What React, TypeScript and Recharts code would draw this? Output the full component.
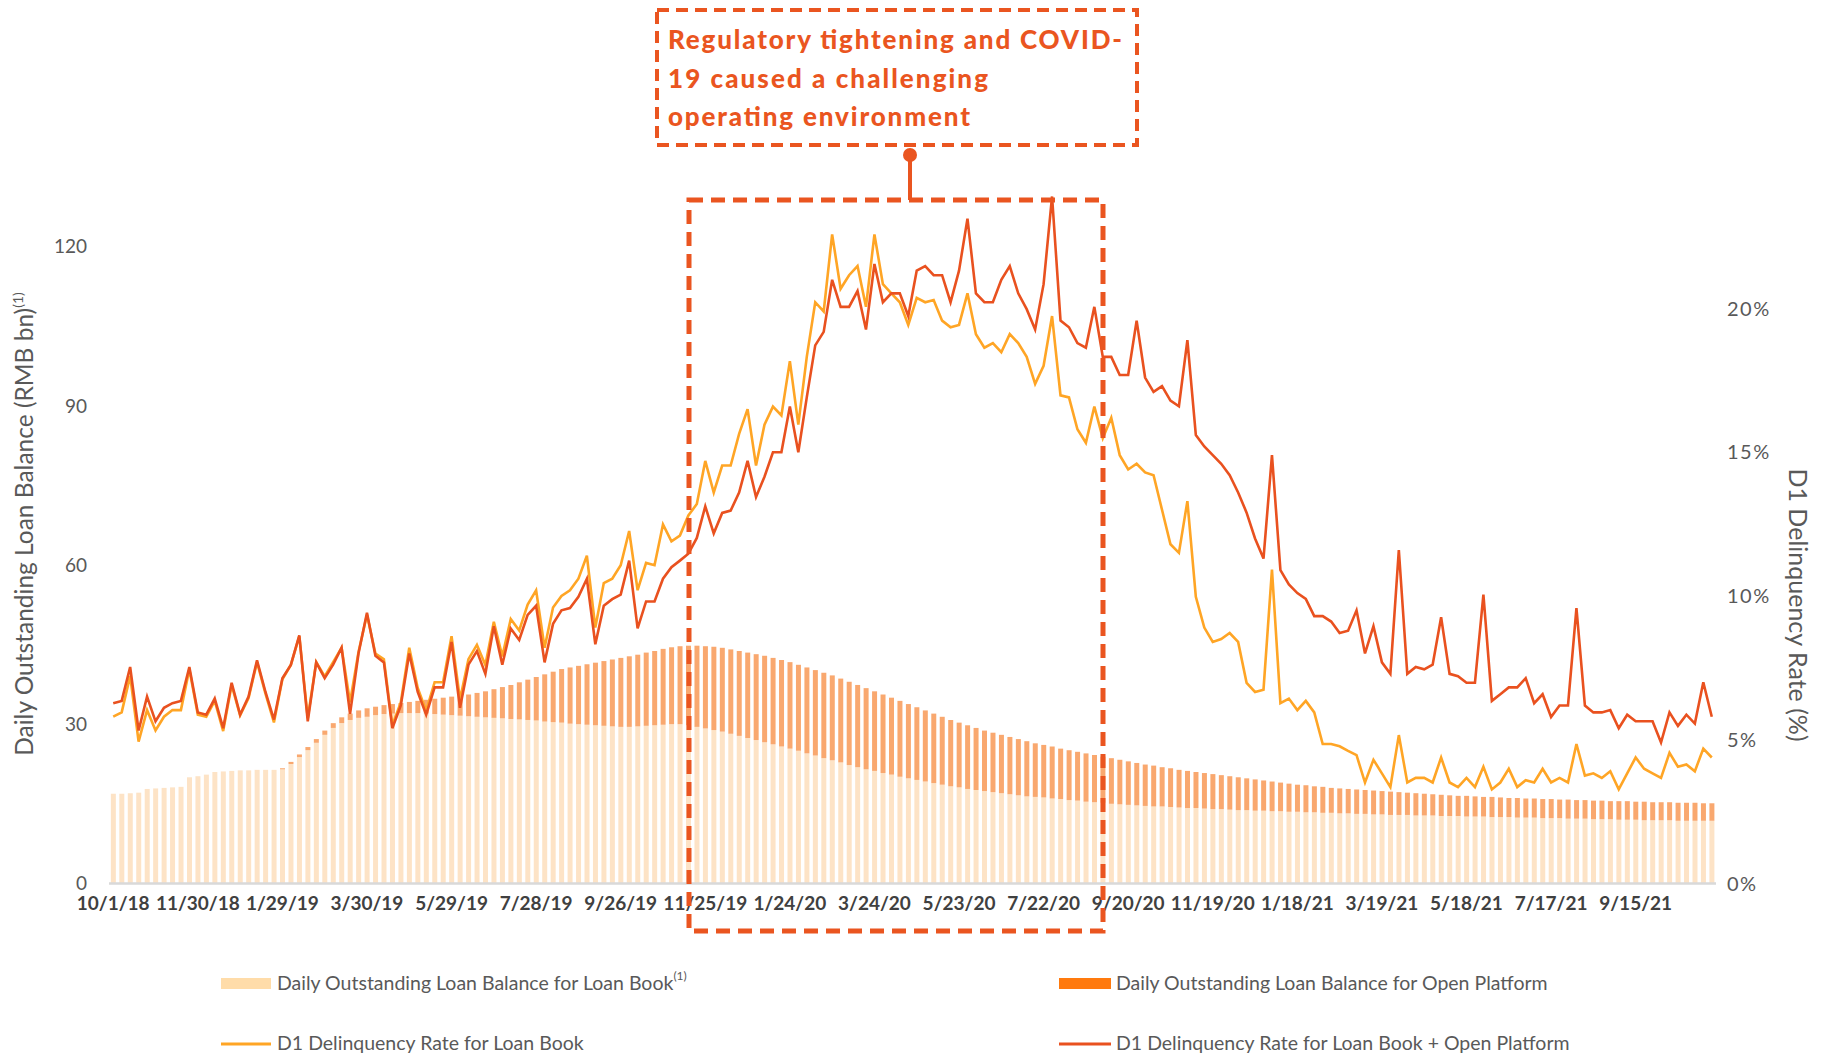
import { ComposedChart, Bar, Line, XAxis, YAxis } from 'recharts';

// one sample every 6 days, starting 10/1/18
const START_UTC = Date.UTC(2018, 9, 1);
const STEP_DAYS = 6;

// Daily Outstanding Loan Balance for Loan Book (RMB bn)
const loanBook = [
  16.9, 16.9, 17.0, 17.1, 17.8, 17.9, 18.0, 18.1, 18.2, 20.0,
  20.2, 20.5, 21.0, 21.1, 21.2, 21.3, 21.3, 21.4, 21.4, 21.4,
  21.5, 22.5, 23.8, 25.1, 26.5, 28.0, 29.3, 30.2, 30.8, 31.2,
  31.4, 31.7, 31.9, 32.0, 32.1, 32.1, 32.1, 32.0, 31.9, 31.8,
  31.7, 31.6, 31.5, 31.4, 31.3, 31.2, 31.1, 31.0, 30.9, 30.8,
  30.7, 30.5, 30.4, 30.3, 30.1, 30.0, 29.9, 29.8, 29.7, 29.6,
  29.5, 29.5, 29.6, 29.7, 29.8, 29.9, 30.0, 30.0, 29.8, 29.5,
  29.2, 28.9, 28.6, 28.2, 27.8, 27.4, 27.0, 26.6, 26.2, 25.8,
  25.4, 25.0, 24.5, 24.1, 23.6, 23.2, 22.8, 22.3, 21.9, 21.5,
  21.2, 20.8, 20.5, 20.1, 19.8, 19.5, 19.2, 18.9, 18.6, 18.3,
  18.1, 17.8, 17.6, 17.4, 17.2, 17.0, 16.8, 16.6, 16.4, 16.3,
  16.2, 16.0, 15.9, 15.7, 15.6, 15.4, 15.3, 15.2, 15.0, 14.9,
  14.8, 14.7, 14.6, 14.5, 14.5, 14.4, 14.3, 14.2, 14.2, 14.1,
  14.0, 14.0, 13.9, 13.8, 13.8, 13.7, 13.7, 13.6, 13.6, 13.5,
  13.5, 13.4, 13.4, 13.3, 13.3, 13.2, 13.2, 13.1, 13.1, 13.0,
  13.0, 12.9, 12.9, 12.9, 12.8, 12.8, 12.8, 12.7, 12.7, 12.7,
  12.6, 12.6, 12.6, 12.5, 12.5, 12.5, 12.4, 12.4, 12.4, 12.3,
  12.3, 12.3, 12.2, 12.2, 12.2, 12.1, 12.1, 12.1, 12.0, 12.0,
  12.0, 11.9, 11.9, 11.9, 11.9, 11.8, 11.8, 11.8, 11.8, 11.8,
];

// Daily Outstanding Loan Balance for Open Platform (RMB bn), stacked on top
const openPlatform = [
  0, 0, 0, 0, 0, 0, 0, 0, 0, 0,
  0, 0, 0, 0, 0, 0, 0, 0, 0, 0,
  0.2, 0.4, 0.5, 0.6, 0.7, 0.8, 0.9, 1.1, 1.2, 1.4,
  1.6, 1.6, 1.7, 1.8, 1.9, 2.1, 2.3, 2.6, 2.9, 3.2,
  3.5, 3.8, 4.1, 4.5, 4.9, 5.4, 5.9, 6.4, 7.0, 7.6,
  8.2, 8.9, 9.5, 10.1, 10.6, 11.0, 11.4, 11.8, 12.2, 12.6,
  13.0, 13.3, 13.5, 13.8, 14.0, 14.3, 14.5, 14.7, 15.0, 15.3,
  15.5, 15.7, 15.8, 15.9, 16.0, 16.1, 16.2, 16.3, 16.3, 16.3,
  16.3, 16.2, 16.2, 16.1, 16.1, 16.0, 15.8, 15.7, 15.5, 15.3,
  15.0, 14.8, 14.5, 14.3, 14.0, 13.7, 13.4, 13.1, 12.8, 12.5,
  12.2, 12.0, 11.7, 11.4, 11.2, 11.0, 10.8, 10.6, 10.4, 10.1,
  9.9, 9.8, 9.5, 9.4, 9.2, 9.1, 8.9, 8.7, 8.6, 8.4,
  8.2, 8.0, 7.8, 7.7, 7.4, 7.3, 7.1, 7.0, 6.8, 6.7,
  6.6, 6.4, 6.3, 6.2, 6.0, 5.9, 5.7, 5.6, 5.4, 5.3,
  5.1, 5.1, 4.9, 4.9, 4.7, 4.7, 4.6, 4.6, 4.5, 4.5,
  4.4, 4.4, 4.3, 4.2, 4.2, 4.1, 4.0, 4.0, 3.9, 3.8,
  3.9, 3.8, 3.7, 3.8, 3.7, 3.6, 3.7, 3.6, 3.6, 3.6,
  3.6, 3.5, 3.6, 3.5, 3.5, 3.5, 3.5, 3.4, 3.5, 3.5,
  3.4, 3.5, 3.4, 3.4, 3.4, 3.4, 3.4, 3.4, 3.3, 3.3,
];

// D1 Delinquency Rate for Loan Book (%)
const lbRate = [
  5.80, 5.95, 7.22, 4.93, 6.03, 5.32, 5.80, 6.03, 6.03, 7.45,
  5.87, 5.80, 6.35, 5.30, 6.90, 5.85, 6.45, 7.70, 6.60, 5.60,
  7.10, 7.60, 8.60, 5.75, 7.70, 7.20, 7.70, 8.20, 6.30, 8.05,
  9.35, 8.00, 7.80, 5.50, 6.30, 8.20, 6.80, 6.00, 7.00, 7.00,
  8.60, 6.40, 7.80, 8.30, 7.60, 9.10, 7.90, 9.20, 8.80, 9.70,
  10.20, 8.20, 9.60, 10.00, 10.20, 10.60, 11.40, 8.90, 10.45, 10.60,
  11.07, 12.26, 10.20, 11.15, 11.07, 12.49, 11.90, 12.10, 12.80, 13.20,
  14.70, 13.60, 14.54, 14.54, 15.64, 16.50, 14.54, 15.96, 16.59, 16.28,
  18.17, 15.96, 18.32, 20.22, 19.90, 22.58, 20.69, 21.16, 21.48, 20.06,
  22.58, 20.85, 20.53, 20.22, 19.43, 20.37, 20.22, 20.30, 19.58, 19.35,
  19.43, 20.53, 19.11, 18.64, 18.80, 18.48, 19.11, 18.80, 18.32, 17.38,
  18.01, 19.74, 16.98, 16.91, 15.80, 15.33, 16.59, 15.49, 16.20, 14.90,
  14.40, 14.60, 14.30, 14.20, 13.00, 11.80, 11.50, 13.30, 9.97, 8.90,
  8.40, 8.50, 8.71, 8.40, 6.98, 6.66, 6.74, 10.92, 6.27, 6.43,
  6.03, 6.35, 5.95, 4.85, 4.85, 4.77, 4.61, 4.46, 3.51, 4.30,
  3.83, 3.35, 5.16, 3.51, 3.67, 3.67, 3.51, 4.38, 3.51, 3.35,
  3.67, 3.35, 4.06, 3.27, 3.51, 3.99, 3.35, 3.59, 3.51, 3.99,
  3.51, 3.67, 3.51, 4.85, 3.75, 3.83, 3.67, 3.90, 3.27, 3.83,
  4.38, 3.99, 3.83, 3.67, 4.54, 4.06, 4.14, 3.90, 4.69, 4.38,
];

// D1 Delinquency Rate for Loan Book + Open Platform (%)
const lbopRate = [
  6.27, 6.35, 7.53, 5.32, 6.50, 5.64, 6.11, 6.27, 6.35, 7.53,
  5.95, 5.87, 6.43, 5.40, 6.98, 5.87, 6.50, 7.76, 6.66, 5.70,
  7.14, 7.60, 8.63, 5.64, 7.69, 7.14, 7.61, 8.20, 5.90, 8.00,
  9.42, 7.92, 7.69, 5.40, 6.19, 8.00, 6.66, 5.87, 6.82, 6.82,
  8.40, 6.11, 7.61, 8.08, 7.29, 8.95, 7.61, 8.87, 8.47, 9.34,
  9.66, 7.69, 9.03, 9.50, 9.58, 9.97, 10.60, 8.32, 9.66, 9.89,
  10.05, 11.23, 8.87, 9.81, 9.81, 10.60, 11.00, 11.23, 11.47, 12.02,
  13.12, 12.18, 12.89, 12.97, 13.60, 14.70, 13.44, 14.15, 15.00, 15.00,
  16.59, 15.00, 16.91, 18.72, 19.19, 21.00, 20.06, 20.06, 20.61, 19.27,
  21.55, 20.22, 20.53, 20.53, 19.74, 21.32, 21.48, 21.16, 21.16, 20.22,
  21.32, 23.13, 20.53, 20.22, 20.22, 21.00, 21.48, 20.53, 19.98, 19.27,
  20.85, 23.90, 19.58, 19.35, 18.80, 18.64, 20.06, 18.32, 18.32, 17.69,
  17.69, 19.58, 17.60, 17.10, 17.30, 16.80, 16.60, 18.90, 15.60, 15.20,
  14.90, 14.60, 14.20, 13.60, 12.90, 12.00, 11.30, 14.90, 10.90, 10.40,
  10.10, 9.90, 9.30, 9.30, 9.11, 8.71, 8.79, 9.50, 8.00, 8.95,
  7.69, 7.29, 11.60, 7.29, 7.53, 7.45, 7.61, 9.26, 7.29, 7.21,
  6.98, 6.98, 10.05, 6.35, 6.58, 6.82, 6.82, 7.14, 6.27, 6.58,
  5.79, 6.19, 6.19, 9.58, 6.19, 5.95, 5.95, 6.03, 5.40, 5.87,
  5.64, 5.64, 5.64, 4.90, 5.95, 5.48, 5.87, 5.56, 7.00, 5.80,
];

const tickLabels = [
  '10/1/18', '11/30/18', '1/29/19', '3/30/19', '5/29/19', '7/28/19', '9/26/19',
  '11/25/19', '1/24/20', '3/24/20', '5/23/20', '7/22/20', '9/20/20', '11/19/20',
  '1/18/21', '3/19/21', '5/18/21', '7/17/21', '9/15/21',
];
const balanceTicks = [0, 30, 60, 90, 120];
const rateTicks = [0, 5, 10, 15, 20];

const formatDate = (i: number) => {
  const d = new Date(START_UTC + i * STEP_DAYS * 86400000);
  return `${d.getUTCMonth() + 1}/${d.getUTCDate()}/${String(d.getUTCFullYear()).slice(2)}`;
};

const data = loanBook.map((v, i) => ({
  date: formatDate(i),
  loanBook: v,
  openPlatform: openPlatform[i],
  lb: lbRate[i],
  lbop: lbopRate[i],
}));

const FONT = 'Lato, "Noto Sans", sans-serif';
const ACCENT = '#EA5520';
const GREY = '#595959';

export default function App() {
  return (
    <div style={{ position: 'absolute', left: 0, top: 0, width: 1825, height: 1060, background: '#fff', fontFamily: FONT }}>
      <ComposedChart
        width={1825}
        height={1060}
        data={data}
        margin={{ top: 193.6, right: 0, bottom: 116.6, left: 0 }}
        barCategoryGap="22%"
      >
        <XAxis
          dataKey="date"
          ticks={tickLabels}
          interval={0}
          tickLine={false}
          tickSize={0}
          tickMargin={13}
          height={60}
          axisLine={{ stroke: '#D9D9D9', strokeWidth: 2.5 }}
          tick={{ fill: '#404040', fontSize: 19, fontWeight: 700, fontFamily: FONT }}
        />
        <YAxis
          yAxisId="left"
          width={109}
          domain={[0, 130]}
          ticks={balanceTicks}
          axisLine={false}
          tickLine={false}
          tickSize={0}
          tickMargin={22}
          tick={{ fill: GREY, fontSize: 19, fontFamily: FONT }}
        />
        <YAxis
          yAxisId="right"
          orientation="right"
          width={109}
          domain={[0, 24]}
          ticks={rateTicks}
          axisLine={false}
          tickLine={false}
          tickSize={0}
          tickMargin={11}
          tickFormatter={(v: number) => `${v}%`}
          tick={{ fill: GREY, fontSize: 20, fontFamily: FONT, textAnchor: 'start', letterSpacing: 1.5 }}
        />
        <Bar yAxisId="left" dataKey="loanBook" stackId="bal" fill="#FDE3C6" isAnimationActive={false} />
        <Bar yAxisId="left" dataKey="openPlatform" stackId="bal" fill="#F9A86F" isAnimationActive={false} />
        <Line yAxisId="right" dataKey="lb" type="linear" stroke="#FFA525" strokeWidth={2.6} dot={false} activeDot={false} isAnimationActive={false} />
        <Line yAxisId="right" dataKey="lbop" type="linear" stroke="#E9511F" strokeWidth={2.6} dot={false} activeDot={false} isAnimationActive={false} />
      </ComposedChart>

      <svg width={1825} height={1060} style={{ position: 'absolute', left: 0, top: 0, pointerEvents: 'none' }}>
        {/* axis titles */}
        <text transform="translate(33,524) rotate(-90)" textAnchor="middle" fontSize={24.5} fill={GREY} fontFamily={FONT}>
          Daily Outstanding Loan Balance (RMB bn)
          <tspan fontSize={14} dy={-10}>(1)</tspan>
        </text>
        <text transform="translate(1789,605) rotate(90)" textAnchor="middle" fontSize={25} fill={GREY} fontFamily={FONT}>
          D1 Delinquency Rate (%)
        </text>

        {/* highlighted period */}
        <rect x={689} y={200} width={414} height={731} fill="none" stroke={ACCENT} strokeWidth={5} strokeDasharray="14 8" />
        <line x1={910} y1={155} x2={910} y2={200} stroke={ACCENT} strokeWidth={4} />
        <circle cx={910} cy={155} r={7} fill={ACCENT} />

        {/* callout */}
        <rect x={657} y={10} width={480} height={135} fill="#fff" stroke={ACCENT} strokeWidth={4} strokeDasharray="12 7" />
        <g fill={ACCENT} fontFamily={FONT} fontWeight={900} fontSize={26}>
          <text x={668} y={49} textLength={454} lengthAdjust="spacing">Regulatory tightening and COVID-</text>
          <text x={668} y={88} textLength={320} lengthAdjust="spacing">19 caused a challenging</text>
          <text x={668} y={126} textLength={302} lengthAdjust="spacing">operating environment</text>
        </g>

        {/* legend */}
        <g fontFamily={FONT} fontSize={19.5} fill={GREY}>
          <rect x={221} y={978} width={50} height={11} fill="#FFDCA9" />
          <text x={277} y={990}>
            Daily Outstanding Loan Balance for Loan Book
            <tspan fontSize={12} dy={-10}>(1)</tspan>
          </text>
          <rect x={1059} y={978} width={52} height={11} fill="#FF7A0E" />
          <text x={1116} y={990}>Daily Outstanding Loan Balance for Open Platform</text>
          <line x1={221} y1={1044} x2={271} y2={1044} stroke="#FFA525" strokeWidth={3} />
          <text x={277} y={1050}>D1 Delinquency Rate for Loan Book</text>
          <line x1={1059} y1={1044} x2={1111} y2={1044} stroke="#E9511F" strokeWidth={3} />
          <text x={1116} y={1050}>D1 Delinquency Rate for Loan Book + Open Platform</text>
        </g>
      </svg>
    </div>
  );
}
